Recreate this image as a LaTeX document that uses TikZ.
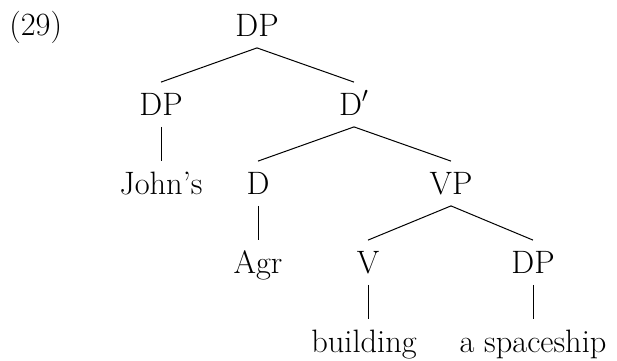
\documentclass[tikz,border=0pt]{standalone}
\usepackage{fontspec}
\usepackage{tikz}

\begin{document}
\begin{tikzpicture}[x=0.5pt,y=-0.5pt,
  cat/.style={anchor=base,inner xsep=0pt,inner ysep=5.75pt,text height=10.5pt,text depth=0pt},
  branch/.style={line width=0.5pt},
  font=\fontsize{16.2}{19}\selectfont]
\useasboundingbox (0,0) rectangle (617,360);

\node [anchor=base west,inner sep=0pt] (exnum) at (9,35) {(29)};

\node [cat] (dp) at (257,36) {DP};
\node [cat] (spec) at (161,115) {DP};
\node [cat] (dbar) at (354,115) {D$'$};
\node [cat] (johns) at (161,194) {John's};
\node [cat] (d) at (258,194) {D};
\node [cat] (vp) at (451,194) {VP};
\node [cat] (agr) at (258,273) {Agr};
\node [cat] (v) at (368,273) {V};
\node [cat] (obj) at (533,273) {DP};
\node [cat] (building) at (364,352) {building};
\node [cat] (ship) at (533,352) {a spaceship};

\draw [branch] (spec.north) -- (dp.south) -- (dbar.north);
\draw [branch] (spec.south) -- (johns.north);
\draw [branch] (d.north) -- (dbar.south) -- (vp.north);
\draw [branch] (d.south) -- (agr.north);
\draw [branch] (v.north) -- (vp.south) -- (obj.north);
\draw [branch] (v.south) -- (v.south |- building.north);
\draw [branch] (obj.south) -- (ship.north);
\end{tikzpicture}
\end{document}
